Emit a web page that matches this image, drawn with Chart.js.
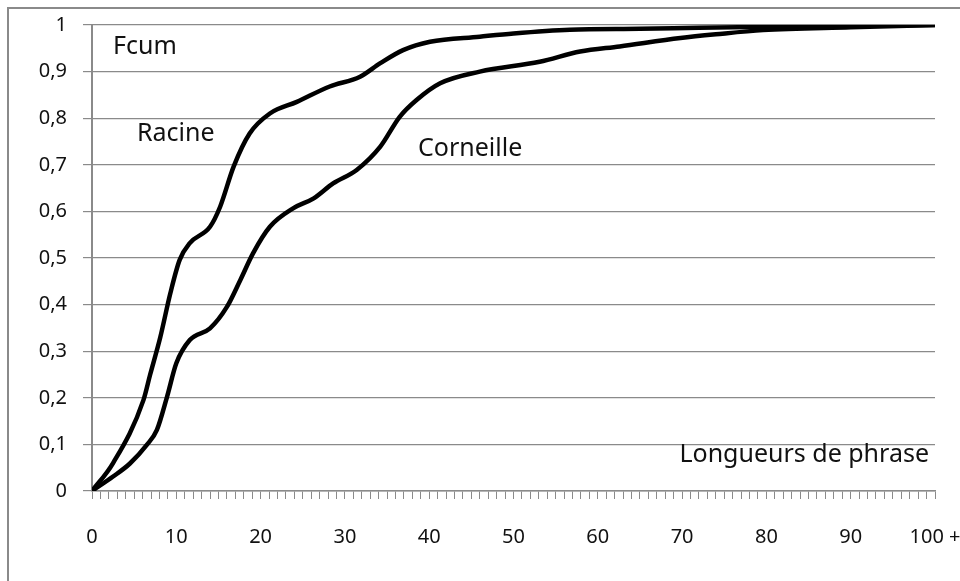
<!DOCTYPE html>
<html lang="fr">
<head>
<meta charset="UTF-8">
<title>Fcum - Longueurs de phrase</title>
<script src="https://cdn.jsdelivr.net/npm/chart.js"></script>
<style>
  html, body { margin: 0; padding: 0; background: #fff; overflow: hidden; }
  #wrap { position: relative; width: 960px; height: 581px; }
  #frame { position: absolute; left: 7px; top: 7px; width: 1000px; height: 1000px; border: 2px solid #8a8a8a; }
  canvas { position: absolute; left: 0; top: 0; }
  .note { position: absolute; font-family: "Noto Sans", sans-serif; font-size: 25px; color: #111; white-space: nowrap; line-height: 1; }
</style>
</head>
<body>
<div id="wrap">
  <div id="frame"></div>
  <canvas id="chart" width="960" height="581"></canvas>
  <div class="note" style="left:113px; top:32px;">Fcum</div>
  <div class="note" style="left:137px; top:119px;">Racine</div>
  <div class="note" style="left:418px; top:134px;">Corneille</div>
  <div class="note" style="right:31px; top:440px;">Longueurs de phrase</div>
</div>
<script>
// sentence length (x) and cumulative frequency (y)
const racineX = [0, 2.5, 6.1, 6.9, 8.1, 9.3, 10.4, 11.6, 14.0, 15.2, 16.8, 18.7, 21.1, 24.3, 28.2, 31.8, 34.2, 36.9, 40.1, 46, 50, 56.7, 65, 72, 80, 90, 100];
const racineY = [0, 0.06, 0.195, 0.25, 0.33, 0.425, 0.496, 0.532, 0.567, 0.61, 0.696, 0.767, 0.81, 0.835, 0.868, 0.889, 0.918, 0.946, 0.964, 0.975, 0.982, 0.99, 0.992, 0.994, 0.996, 0.998, 1];

const corneilleX = [0, 2.5, 4.5, 6.5, 7.7, 8.9, 10.0, 11.6, 14.0, 16.0, 17.6, 19.1, 21.1, 23.9, 26.3, 28.6, 31.4, 34.2, 36.5, 38.5, 41.3, 46.0, 53.1, 57.9, 62.6, 69.8, 74, 79.6, 90, 100];
const corneilleY = [0, 0.031, 0.059, 0.099, 0.131, 0.202, 0.274, 0.324, 0.349, 0.395, 0.453, 0.51, 0.567, 0.607, 0.628, 0.66, 0.689, 0.739, 0.803, 0.839, 0.875, 0.9, 0.921, 0.943, 0.954, 0.972, 0.98, 0.989, 0.995, 1];

const xTickLabels = { 0: '0', 10: '10', 20: '20', 30: '30', 40: '40', 50: '50', 60: '60', 70: '70', 80: '80', 90: '90', 100: '100 +' };

const toPoints = (xs, ys) => xs.map((x, i) => ({ x: x, y: ys[i] }));

const gridGray = '#8a8a8a';
const tickFont = { family: 'Noto Sans', size: 20 };

new Chart(document.getElementById('chart'), {
  type: 'line',
  data: {
    datasets: [
      { label: 'Racine', data: toPoints(racineX, racineY) },
      { label: 'Corneille', data: toPoints(corneilleX, corneilleY) }
    ]
  },
  options: {
    responsive: false,
    animation: false,
    layout: { padding: { left: 0, right: 25, top: 25, bottom: 0 } },
    elements: {
      line: { borderColor: '#000', borderWidth: 4.5, cubicInterpolationMode: 'monotone', fill: false },
      point: { radius: 0 }
    },
    plugins: { legend: { display: false }, tooltip: { enabled: false } },
    scales: {
      x: {
        type: 'linear', min: 0, max: 100,
        afterFit: s => { s.height = 90; s.paddingLeft = 0; s.paddingRight = 0; },
        afterBuildTicks: s => { s.ticks = Array.from({ length: 101 }, (_, i) => ({ value: i })); },
        ticks: {
          autoSkip: false, maxRotation: 0, color: '#111', font: tickFont, padding: 26,
          callback: v => xTickLabels[v] !== undefined ? xTickLabels[v] : ''
        },
        grid: { drawOnChartArea: false, drawTicks: true, tickLength: 8, color: gridGray, lineWidth: 1 },
        border: { color: gridGray, width: 1.5 }
      },
      y: {
        min: 0, max: 1,
        afterFit: s => { s.width = 92; s.paddingTop = 0; s.paddingBottom = 0; },
        ticks: {
          stepSize: 0.1, color: '#111', font: tickFont, padding: 16,
          callback: v => v === 0 ? '0' : (Math.abs(v - 1) < 1e-9 ? '1' : v.toFixed(1).replace('.', ','))
        },
        grid: { color: gridGray, lineWidth: 1.2, tickLength: 9 },
        border: { color: gridGray, width: 2 }
      }
    }
  }
});
</script>
</body>
</html>
